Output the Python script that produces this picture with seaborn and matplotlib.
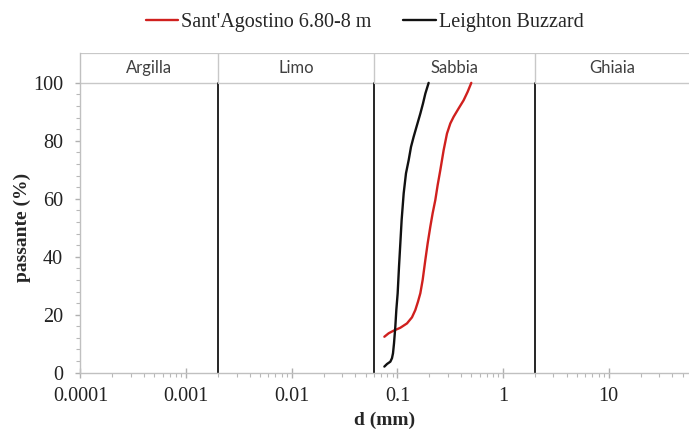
import numpy as np
import pandas as pd
import matplotlib
matplotlib.use("Agg")
import matplotlib.pyplot as plt
import seaborn as sns

# Data
red_d = [0.0752, 0.0826, 0.0921, 0.1065, 0.1231, 0.1373, 0.1476, 0.1565, 0.1647, 0.1733,
         0.1837, 0.1932, 0.2048, 0.2154, 0.2284, 0.2402, 0.2546, 0.2738, 0.2944, 0.3166,
         0.3404, 0.3797, 0.4232, 0.4617, 0.5001]
red_p = [12.4, 13.6, 14.5, 15.5, 17.0, 19.1, 21.6, 24.5, 27.4, 32.0,
         38.9, 44.6, 50.4, 55.0, 59.6, 64.7, 69.9, 76.8, 82.5, 86.0,
         88.3, 91.2, 94.0, 96.9, 100.0]
blk_d = [0.0752, 0.0797, 0.0857, 0.0888, 0.0908, 0.0928, 0.0955, 0.0976, 0.1005, 0.1035,
         0.1065, 0.1096, 0.1146, 0.1205, 0.1277, 0.1344, 0.1424, 0.1531, 0.1647, 0.1746,
         0.1837, 0.1974]
blk_p = [2.1, 3.0, 3.8, 5.0, 6.7, 10.1, 15.9, 21.6, 27.4, 36.6,
         44.6, 52.7, 61.9, 68.8, 73.3, 77.9, 81.4, 85.4, 89.4, 92.9,
         96.3, 100.0]
series_names = ["Sant'Agostino 6.80-8 m", "Leighton Buzzard"]
boundaries = [0.002, 0.06, 2]
zone_labels = ["Argilla", "Limo", "Sabbia", "Ghiaia"]
x_ticks = [0.0001, 0.001, 0.01, 0.1, 1, 10]
x_tick_labels = ["0.0001", "0.001", "0.01", "0.1", "1", "10"]
y_ticks = [0, 20, 40, 60, 80, 100]

sns.set_style("white")
plt.rcParams['font.family'] = ['Liberation Serif', 'DejaVu Serif']

fig = plt.figure(figsize=(6.89, 4.30), dpi=100)
ax = fig.add_axes([0.1168, 0.1333, 0.8832, 0.7434])

xmin, xmax = 1e-4, 57.5
ytop = 110.3
red_c, blk_c = "#d0201e", "#111111"

df = pd.concat([
    pd.DataFrame({"d": red_d, "p": red_p, "s": series_names[0]}),
    pd.DataFrame({"d": blk_d, "p": blk_p, "s": series_names[1]}),
])
sns.lineplot(data=df, x="d", y="p", hue="s", palette=[red_c, blk_c],
             sort=False, linewidth=1.7, ax=ax, legend=False)

ax.set_xscale("log")
ax.set_xlim(xmin, xmax)
ax.set_ylim(0, ytop)

# boundaries
for b in boundaries:
    ax.plot([b, b], [0, 100], color="black", linewidth=1.2, zorder=1)
    ax.plot([b, b], [100, ytop], color="#c8c8c8", linewidth=1.0, zorder=1)
ax.axhline(100, color="#c8c8c8", linewidth=1.0, zorder=0)
ax.axhline(ytop, color="#c8c8c8", linewidth=1.6, zorder=0)

edges = [xmin] + boundaries + [xmax]
for lab, a, b in zip(zone_labels, edges[:-1], edges[1:]):
    ax.text(np.sqrt(a * b), (100 + ytop) / 2, lab, ha="center", va="center",
            fontsize=12, color="#404040", family=["Lato", "DejaVu Sans"])

for s in ["top", "right"]:
    ax.spines[s].set_visible(False)
for s in ["left", "bottom"]:
    ax.spines[s].set_color("#c0c0c0")
    ax.spines[s].set_linewidth(1.0)

ax.set_xticks(x_ticks)
ax.set_xticklabels(x_tick_labels)
ax.xaxis.set_minor_locator(matplotlib.ticker.LogLocator(base=10, subs=np.arange(2, 10)))
ax.xaxis.set_minor_formatter(matplotlib.ticker.NullFormatter())
ax.set_yticks(y_ticks)
ax.yaxis.set_minor_locator(matplotlib.ticker.FixedLocator(np.arange(0, 101, 4)))
ax.tick_params(axis="y", which="major", direction="out", length=3.5, width=1,
               color="#b0b0b0", labelsize=14.5, labelcolor="#222222", pad=9)
ax.tick_params(axis="x", which="major", direction="inout", length=7, width=1,
               color="#b0b0b0", labelsize=14.5, labelcolor="#222222", pad=6.5)
ax.tick_params(axis="both", which="minor", direction="out", length=3, width=0.8,
               color="#b8b8b8")
ax.tick_params(axis="both", left=True, bottom=True)
ax.tick_params(axis="both", which="minor", left=True, bottom=True)

ax.set_xlabel("d (mm)", fontsize=14, fontweight="bold", labelpad=4.5)
ax.set_ylabel("passante (%)", fontsize=14, fontweight="bold")
ax.yaxis.set_label_coords(-0.082, 100 / ytop / 2)

handles = [plt.Line2D([], [], color=red_c, lw=1.7),
           plt.Line2D([], [], color=blk_c, lw=1.7)]
fig.legend(handles, series_names, loc="center", bbox_to_anchor=(0.529, 0.948),
           ncol=2, frameon=False, fontsize=14.5, handlelength=1.6, handletextpad=0.15,
           columnspacing=1.6)

ax.grid(False)
fig.savefig("out.png", dpi=100)
